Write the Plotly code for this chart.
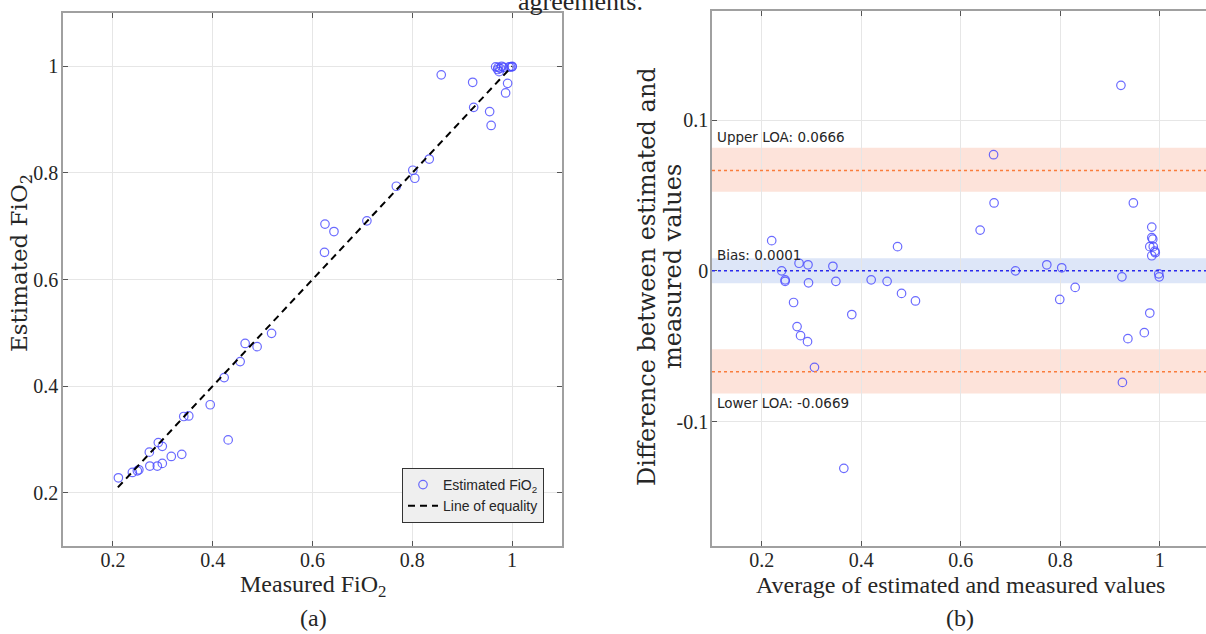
import plotly.graph_objects as go

W, H = 1206, 634

# ---------------- data ----------------
measured = [0.211, 0.239, 0.249, 0.252, 0.273, 0.274, 0.289, 0.291, 0.299, 0.299,
            0.317, 0.338, 0.342, 0.352, 0.395, 0.423, 0.431, 0.455, 0.465, 0.489,
            0.518, 0.624, 0.625, 0.643, 0.709, 0.768, 0.801, 0.805, 0.834, 0.858,
            0.921, 0.923, 0.955, 0.958, 0.967, 0.971, 0.972, 0.974, 0.976, 0.979,
            0.983, 0.987, 0.991, 0.994, 0.997, 1.000, 1.000]
estimated = [0.228, 0.238, 0.241, 0.243, 0.276, 0.250, 0.250, 0.294, 0.287, 0.255,
             0.268, 0.272, 0.343, 0.344, 0.365, 0.416, 0.299, 0.446, 0.480, 0.474,
             0.499, 0.651, 0.704, 0.690, 0.710, 0.775, 0.805, 0.790, 0.826, 0.984,
             0.970, 0.923, 0.915, 0.889, 0.999, 0.994, 0.998, 0.990, 0.996, 1.000,
             0.998, 0.950, 0.968, 0.999, 0.999, 1.000, 0.999]
equality_x = [0.21, 1.0]
equality_y = [0.21, 1.0]

ba_avg = [0.220, 0.240, 0.247, 0.247, 0.264, 0.271, 0.275, 0.278, 0.292, 0.293,
          0.294, 0.306, 0.343, 0.349, 0.365, 0.381, 0.420, 0.452, 0.473, 0.481,
          0.509, 0.639, 0.666, 0.667, 0.710, 0.773, 0.799, 0.803, 0.830, 0.922,
          0.924, 0.925, 0.936, 0.947, 0.969, 0.980, 0.980, 0.984, 0.984, 0.984,
          0.986, 0.987, 0.990, 0.991, 0.998, 0.999]
ba_diff = [0.020, 0.000, -0.007, -0.006, -0.021, -0.037, 0.005, -0.043, -0.047, 0.004,
           -0.008, -0.064, 0.003, -0.007, -0.131, -0.029, -0.006, -0.007, 0.016, -0.015,
           -0.020, 0.027, 0.077, 0.045, 0.000, 0.004, -0.019, 0.002, -0.011, 0.123,
           -0.004, -0.074, -0.045, 0.045, -0.041, -0.028, 0.016, 0.029, 0.022, 0.010,
           0.021, 0.016, 0.013, 0.012, -0.002, -0.004]

bias = 0.0001
bias_ci = [-0.0083, 0.0083]
upper_loa = 0.0666
upper_ci = [0.0524, 0.0816]
lower_loa = -0.0669
lower_ci = [-0.0813, -0.0521]

tick_vals = [0.2, 0.4, 0.6, 0.8, 1.0]
tick_text = ['0.2', '0.4', '0.6', '0.8', '1']
ytick2_vals = [-0.1, 0.0, 0.1]
ytick2_text = ['-0.1', '0', '0.1']

# ---------------- styles ----------------
SERIF = 'Liberation Serif, Times New Roman, serif'
SERIF_WIDE = 'DejaVu Serif, serif'
SANS = 'DejaVu Sans, sans-serif'
NARROW = 'Liberation Sans Narrow, Liberation Sans, Arial, sans-serif'
MARK = 'rgba(70,70,255,0.8)'
GRID = '#e6e6e6'
AXL = '#a0a0a0'
TXT = '#262626'
ORANGE = '#fa7d3c'
BLUE_L = '#2a2aee'

fig = go.Figure()

fig.add_trace(go.Scatter(
    x=measured, y=estimated, mode='markers', name='Estimated FiO<sub>2</sub>',
    marker=dict(symbol='circle-open', size=8.5, color=MARK, line=dict(width=1.2, color=MARK)),
    xaxis='x', yaxis='y'))
fig.add_trace(go.Scatter(
    x=equality_x, y=equality_y, mode='lines', name='Line of equality',
    line=dict(color='black', width=2, dash='7px,5px'),
    xaxis='x', yaxis='y'))

fig.add_trace(go.Scatter(
    x=ba_avg, y=ba_diff, mode='markers', showlegend=False,
    marker=dict(symbol='circle-open', size=8.5, color=MARK, line=dict(width=1.2, color=MARK)),
    xaxis='x2', yaxis='y2'))

shapes = []
for lo, hi, col in [(bias_ci[0], bias_ci[1], '#dde6f8'),
                    (upper_ci[0], upper_ci[1], '#fde3da'),
                    (lower_ci[0], lower_ci[1], '#fde3da')]:
    shapes.append(dict(type='rect', xref='x2 domain', yref='y2', x0=0, x1=1, y0=lo, y1=hi,
                       fillcolor=col, line=dict(width=0), layer='below'))
for val, col in [(bias, BLUE_L), (upper_loa, ORANGE), (lower_loa, ORANGE)]:
    shapes.append(dict(type='line', xref='x2 domain', yref='y2', x0=0, x1=1, y0=val, y1=val,
                       line=dict(color=col, width=1.5, dash='3px,3px'), layer='above'))


def px_x(p):
    return p / W


def px_y(p):
    return 1 - p / H


axis_common = dict(showgrid=True, gridcolor=GRID, gridwidth=1, zeroline=False,
                   showline=True, linecolor=AXL, linewidth=1.5,
                   ticks='inside', ticklen=5, tickcolor='#555', tickwidth=1,
                   tickfont=dict(family=SERIF, size=20, color=TXT))

fig.update_layout(
    width=W, height=H, margin=dict(l=0, r=0, t=0, b=0),
    paper_bgcolor='white', plot_bgcolor='white',
    xaxis=dict(domain=[px_x(63), px_x(562)], range=[0.1, 1.1], tickvals=tick_vals,
               ticktext=tick_text, mirror='ticks', anchor='y', ticklabelstandoff=-5, **axis_common),
    yaxis=dict(domain=[px_y(546), px_y(13)], range=[0.1, 1.1], tickvals=tick_vals,
               ticktext=tick_text, mirror='ticks', anchor='x', ticklabelstandoff=-1, **axis_common),
    xaxis2=dict(domain=[px_x(712), 1.0], range=[0.1, 1.093], tickvals=tick_vals,
                ticktext=tick_text, mirror='ticks', anchor='y2', ticklabelstandoff=-5, **axis_common),
    yaxis2=dict(domain=[px_y(546), px_y(11)], range=[-0.1825, 0.1723], tickvals=ytick2_vals,
                ticktext=ytick2_text, mirror=False, anchor='x2', ticklabelstandoff=-2, **axis_common),
    shapes=shapes,
    legend=dict(x=px_x(544), xanchor='right', y=px_y(523), yanchor='bottom',
                bgcolor='#efefef', bordercolor='#333', borderwidth=1,
                font=dict(family=NARROW, size=14, color=TXT), itemwidth=30,
                tracegroupgap=0),
)

ann = []


def add_text(text, x, y, size=24, family=SERIF, angle=0, xanchor='center', yanchor='middle'):
    ann.append(dict(text=text, x=px_x(x), y=px_y(y), xref='paper', yref='paper',
                    showarrow=False, textangle=angle, xanchor=xanchor, yanchor=yanchor,
                    font=dict(family=family, size=size, color=TXT)))


add_text('agreements.', 580, 18, size=26, yanchor='bottom')
add_text('Estimated FiO<sub>2</sub>', 21, 263, size=23, family=SERIF_WIDE, angle=-90)
add_text('Measured FiO<sub>2</sub>', 313, 586)
add_text('(a)', 313, 618)
add_text('Difference between estimated and', 647, 276, size=24, family=SERIF_WIDE, angle=-90)
add_text('measured values', 673, 267, size=24, family=SERIF_WIDE, angle=-90)
add_text('Average of estimated and measured values', 960, 585)
add_text('(b)', 960, 618)
add_text('Upper LOA: %.4f' % upper_loa, 715, 137, size=13.5, family=SANS, xanchor='left')
add_text('Bias: %.4f' % bias, 715, 255, size=13.5, family=SANS, xanchor='left')
add_text('Lower LOA: %.4f' % lower_loa, 715, 403, size=13.5, family=SANS, xanchor='left')

fig.update_layout(annotations=ann)

fig.write_html('out.html')
